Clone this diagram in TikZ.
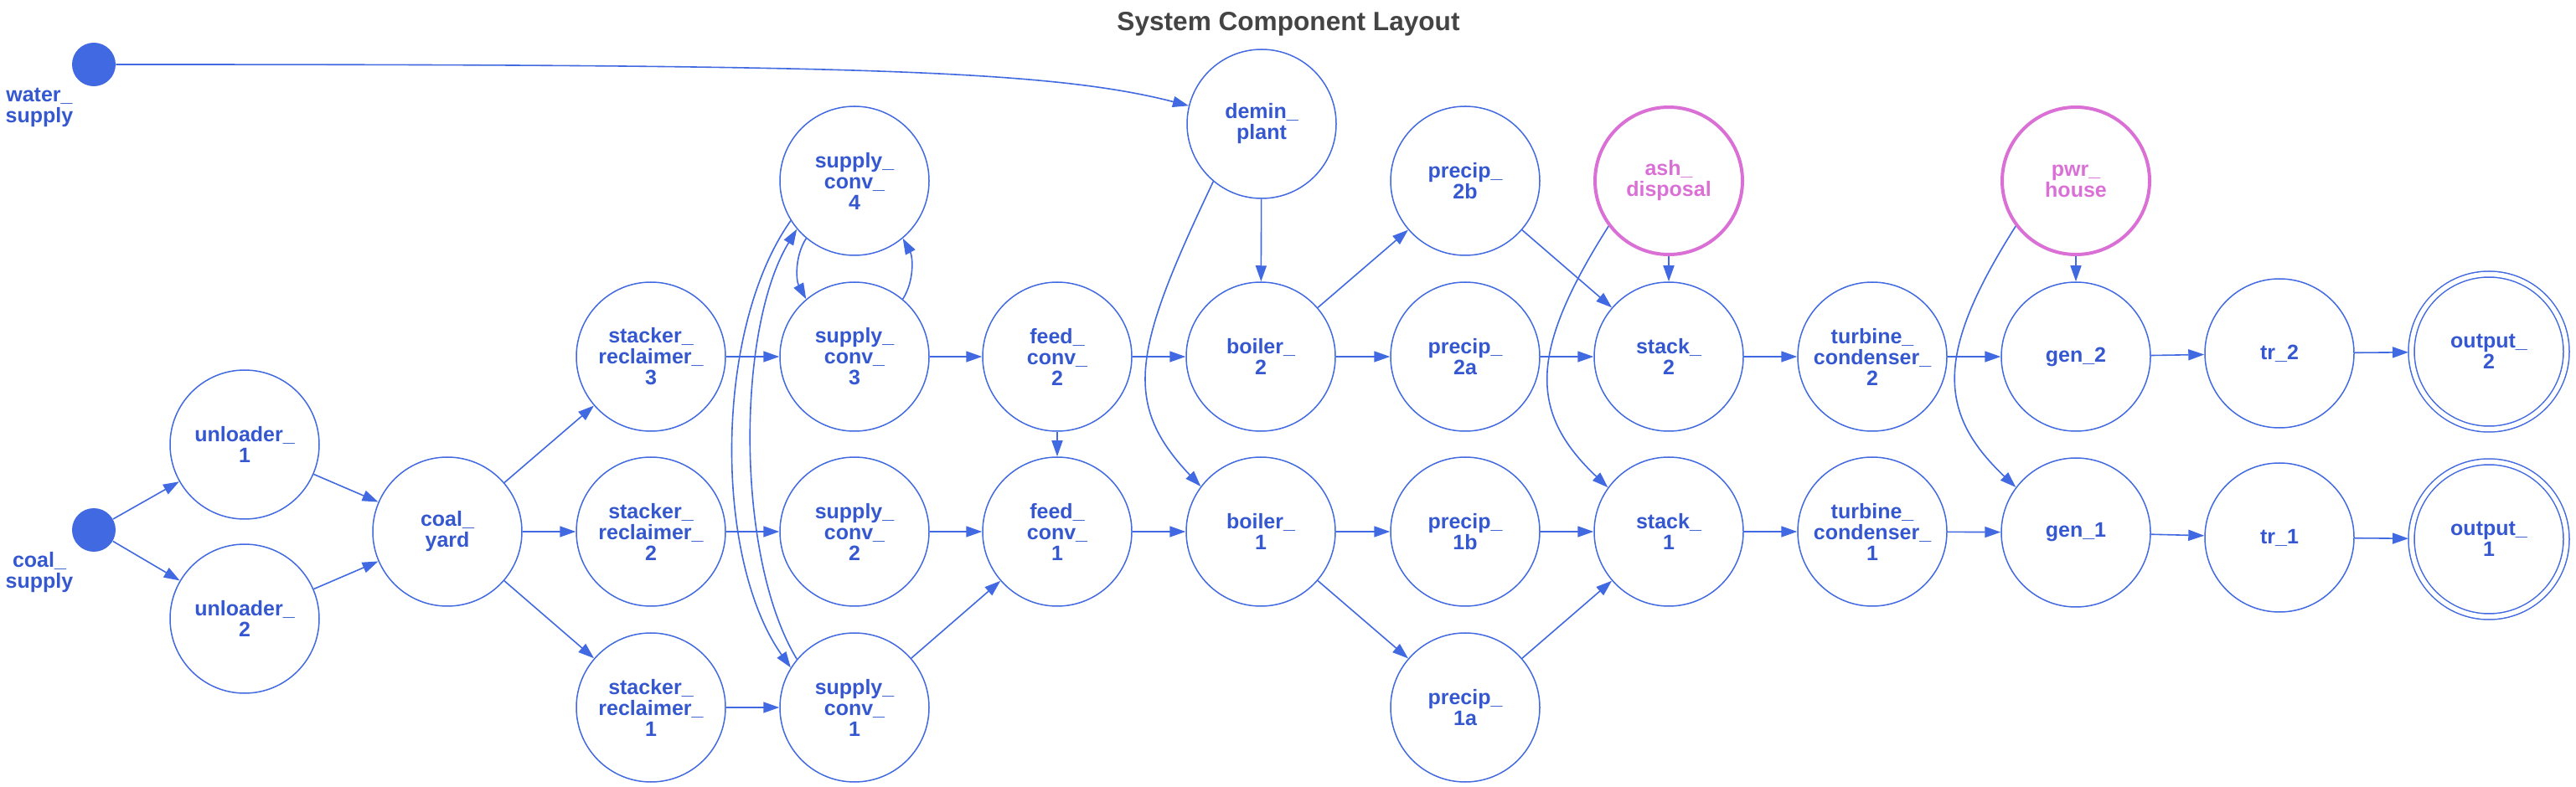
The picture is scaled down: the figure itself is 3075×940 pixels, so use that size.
\documentclass[tikz,border=0pt]{standalone}
\usepackage{fontspec}
\setmainfont{Liberation Sans}
\usetikzlibrary{arrows.meta}
\definecolor{edgeblue}{HTML}{4169E1}
\definecolor{textblue}{HTML}{3558D0}
\definecolor{hubpink}{HTML}{DA70D6}
\definecolor{titlegray}{HTML}{444444}
\newcommand{\labfont}{\bfseries\fontsize{12.5}{12.5}\selectfont}

\begin{document}
\begin{tikzpicture}[x=0.50pt,y=0.50pt,yscale=-1,xscale=1,
  comp/.style={circle,draw=edgeblue,line width=0.75pt,minimum size=89pt,inner sep=0pt,align=center,text=textblue,font=\labfont},
  hub/.style={comp,draw=hubpink,line width=2pt,minimum size=88pt,text=hubpink},
  outnode/.style={comp,double,double distance=2.75pt,minimum size=92.5pt,outer sep=1.75pt},
  src/.style={circle,fill=edgeblue,minimum size=26pt,inner sep=0pt},
  srclabel/.style={align=center,text=textblue,font=\labfont},
  flow/.style={draw=edgeblue,line width=0.8pt,-{Triangle[length=9.5pt,width=6.5pt]}}]
\useasboundingbox (0,0) rectangle (3075,940);

% Title
\node[font=\bfseries\fontsize{15.8}{16}\selectfont,text=titlegray,anchor=base] (title) at (1538,37) {System Component Layout};

% Sources
\node[src] (water) at (112,77) {};
\node[srclabel] (waterlbl) at (47,128) {water\_\\supply};
\node[src] (coal) at (112,633) {};
\node[srclabel] (coallbl) at (47,684) {coal\_\\supply};

% Coal handling
\node[comp] (unl1) at (292,531) {unloader\_\\1};
\node[comp] (unl2) at (292,739) {unloader\_\\2};
\node[comp] (yard) at (534,635) {coal\_\\yard};
\node[comp] (sr3) at (777,426) {stacker\_\\reclaimer\_\\3};
\node[comp] (sr2) at (777,635) {stacker\_\\reclaimer\_\\2};
\node[comp] (sr1) at (777,845) {stacker\_\\reclaimer\_\\1};
\node[comp] (sc4) at (1020,216) {supply\_\\conv\_\\4};
\node[comp] (sc3) at (1020,426) {supply\_\\conv\_\\3};
\node[comp] (sc2) at (1020,635) {supply\_\\conv\_\\2};
\node[comp] (sc1) at (1020,845) {supply\_\\conv\_\\1};
\node[comp] (fc2) at (1262,426) {feed\_\\conv\_\\2};
\node[comp] (fc1) at (1262,635) {feed\_\\conv\_\\1};

% Boilers and flue gas
\node[comp] (demin) at (1506,148) {demin\_\\plant};
\node[comp] (b2) at (1505,426) {boiler\_\\2};
\node[comp] (b1) at (1505,635) {boiler\_\\1};
\node[comp] (p2b) at (1749,216) {precip\_\\2b};
\node[comp] (p2a) at (1749,426) {precip\_\\2a};
\node[comp] (p1b) at (1749,635) {precip\_\\1b};
\node[comp] (p1a) at (1749,845) {precip\_\\1a};
\node[hub] (ash) at (1992,216) {ash\_\\disposal};
\node[comp] (stk2) at (1992,426) {stack\_\\2};
\node[comp] (stk1) at (1992,635) {stack\_\\1};

% Power side
\node[comp] (tc2) at (2235,426) {turbine\_\\condenser\_\\2};
\node[comp] (tc1) at (2235,635) {turbine\_\\condenser\_\\1};
\node[hub] (pwr) at (2478,216) {pwr\_\\house};
\node[comp] (gen2) at (2478,426) {gen\_2};
\node[comp] (gen1) at (2478,636) {gen\_1};
\node[comp] (tr2) at (2721,422) {tr\_2};
\node[comp] (tr1) at (2721,642) {tr\_1};
\node[outnode] (out2) at (2971,420) {output\_\\2};
\node[outnode] (out1) at (2971,644) {output\_\\1};

% Connections
\draw[flow] (water) .. controls +(888,0) and +(-170,-44) .. (demin.166);
\draw[flow] (coal) -- (unl1);
\draw[flow] (coal) -- (unl2);
\draw[flow] (unl1) -- (yard);
\draw[flow] (unl2) -- (yard);
\draw[flow] (yard) -- (sr3);
\draw[flow] (yard) -- (sr2);
\draw[flow] (yard) -- (sr1);
\draw[flow] (sr3) -- (sc3);
\draw[flow] (sr2) -- (sc2);
\draw[flow] (sr1) -- (sc1);
\draw[flow] (sc4.230) .. controls +(-14,22) and +(-12,-22) .. (sc3.130);
\draw[flow] (sc3.50) .. controls +(14,-22) and +(12,22) .. (sc4.310);
\draw[flow] (sc4.212) .. controls +(-92,130) and +(-92,-130) .. (sc1.148);
\draw[flow] (sc1.140) .. controls +(-73,-120) and +(-73,120) .. (sc4.220);
\draw[flow] (sc3) -- (fc2);
\draw[flow] (sc2) -- (fc1);
\draw[flow] (sc1) -- (fc1);
\draw[flow] (fc2) -- (fc1);
\draw[flow] (fc2) -- (b2);
\draw[flow] (fc1) -- (b1);
\draw[flow] (demin) -- (b2);
\draw[flow] (demin.230) .. controls +(-95,200) and +(-95,-100) .. (b1.143);
\draw[flow] (b2) -- (p2b);
\draw[flow] (b2) -- (p2a);
\draw[flow] (b1) -- (p1b);
\draw[flow] (b1) -- (p1a);
\draw[flow] (p2b) -- (stk2);
\draw[flow] (p2a) -- (stk2);
\draw[flow] (p1b) -- (stk1);
\draw[flow] (p1a) -- (stk1);
\draw[flow] (ash) -- (stk2);
\draw[flow] (ash.217) .. controls +(-95,150) and +(-95,-90) .. (stk1.144);
\draw[flow] (stk2) -- (tc2);
\draw[flow] (stk1) -- (tc1);
\draw[flow] (tc2) -- (gen2);
\draw[flow] (tc1) -- (gen1);
\draw[flow] (pwr) -- (gen2);
\draw[flow] (pwr.217) .. controls +(-95,150) and +(-95,-90) .. (gen1.143);
\draw[flow] (gen2) -- (tr2);
\draw[flow] (gen1) -- (tr1);
\draw[flow] (tr2) -- (out2);
\draw[flow] (tr1) -- (out1);

\end{tikzpicture}
\end{document}
